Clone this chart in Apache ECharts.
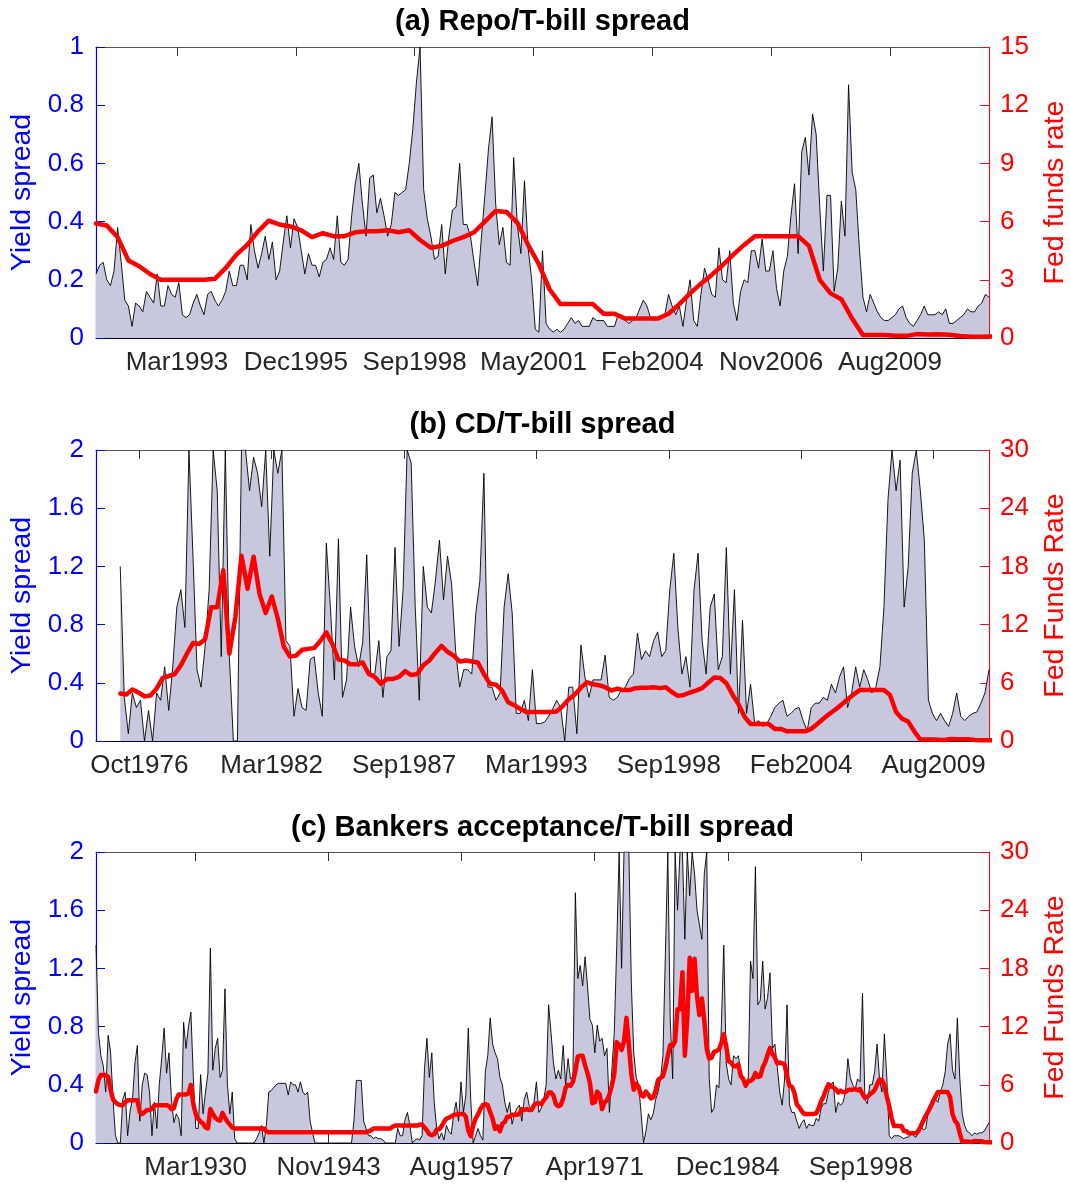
<!DOCTYPE html>
<html>
<head>
<meta charset="utf-8">
<script src="https://cdn.jsdelivr.net/npm/echarts@6/dist/echarts.min.js"></script>
<style>html,body{margin:0;padding:0;background:#fff}#c{width:1070px;height:1184px}</style>
</head>
<body>
<div id="c"></div>
<script>
// ---------------- DATA ----------------
// (a) Repo/T-bill spread, monthly from Apr 1991
const repoStart = 1991.25;
const repoStep = 1 / 12;
const repoSpread = [
  0.22, 0.25, 0.26, 0.20, 0.18, 0.23, 0.38, 0.26, 0.13, 0.11,
  0.04, 0.12, 0.11, 0.09, 0.16, 0.14, 0.12, 0.22, 0.11, 0.11,
  0.18, 0.15, 0.14, 0.19, 0.08, 0.07, 0.08, 0.12, 0.15, 0.11,
  0.08, 0.15, 0.16, 0.13, 0.11, 0.13, 0.16, 0.23, 0.18, 0.18,
  0.25, 0.25, 0.20, 0.39, 0.30, 0.24, 0.29, 0.35, 0.27, 0.33,
  0.20, 0.23, 0.33, 0.42, 0.31, 0.41, 0.38, 0.30, 0.22, 0.29,
  0.25, 0.25, 0.21, 0.26, 0.27, 0.31, 0.27, 0.42, 0.26, 0.25,
  0.27, 0.42, 0.53, 0.60, 0.46, 0.35, 0.55, 0.56, 0.43, 0.48,
  0.42, 0.35, 0.39, 0.50, 0.49, 0.50, 0.51, 0.60, 0.72, 0.88,
  1.00, 0.51, 0.41, 0.35, 0.27, 0.28, 0.39, 0.22, 0.35, 0.44,
  0.45, 0.60, 0.39, 0.39, 0.35, 0.26, 0.18, 0.34, 0.49, 0.65,
  0.76, 0.46, 0.32, 0.38, 0.26, 0.25, 0.62, 0.39, 0.29, 0.54,
  0.31, 0.20, 0.03, 0.02, 0.30, 0.05, 0.03, 0.02, 0.03, 0.02,
  0.03, 0.05, 0.07, 0.05, 0.06, 0.04, 0.04, 0.04, 0.07, 0.06,
  0.06, 0.06, 0.04, 0.04, 0.04, 0.08, 0.07, 0.06, 0.05, 0.06,
  0.07, 0.10, 0.13, 0.11, 0.07, 0.06, 0.07, 0.07, 0.08, 0.15,
  0.11, 0.08, 0.11, 0.04, 0.13, 0.20, 0.06, 0.04, 0.15, 0.24,
  0.20, 0.15, 0.14, 0.31, 0.20, 0.19, 0.30, 0.12, 0.06, 0.16,
  0.20, 0.19, 0.30, 0.30, 0.24, 0.34, 0.23, 0.23, 0.30, 0.17,
  0.11, 0.23, 0.28, 0.42, 0.53, 0.29, 0.64, 0.69, 0.56, 0.77,
  0.70, 0.45, 0.23, 0.49, 0.49, 0.16, 0.24, 0.47, 0.35, 0.87,
  0.57, 0.51, 0.31, 0.14, 0.09, 0.15, 0.12, 0.09, 0.07, 0.06,
  0.06, 0.07, 0.08, 0.10, 0.11, 0.07, 0.05, 0.04, 0.06, 0.08,
  0.11, 0.08, 0.08, 0.08, 0.09, 0.08, 0.10, 0.05, 0.05, 0.06,
  0.07, 0.08, 0.10, 0.09, 0.09, 0.11, 0.12, 0.15, 0.14
];

// (b) CD/T-bill spread, every two months from Jan 1976
const cdStart = 1976.0;
const cdStep = 1 / 6;
const cdSpread = [
  1.20, 0.30, 0.05, 0.33, 0.23, 0.28, 0.00, 0.21, 0.00, 0.33,
  0.28, 0.51, 0.21, 0.51, 0.92, 1.04, 0.78, 2.00, 1.27, 0.49,
  0.37, 0.65, 1.04, 2.00, 1.72, 0.58, 2.00, 0.58, 0.00, 0.00,
  2.00, 2.00, 1.72, 1.95, 1.84, 1.61, 2.00, 1.27, 2.00, 1.84,
  2.00, 0.69, 0.65, 0.17, 0.36, 0.23, 0.21, 0.56, 0.58, 0.33,
  0.17, 1.36, 0.92, 0.42, 1.39, 0.30, 0.42, 0.92, 0.65, 0.51,
  0.68, 1.28, 0.46, 0.46, 0.69, 0.30, 0.58, 0.62, 1.33, 0.65,
  1.04, 2.00, 1.91, 0.92, 0.28, 1.20, 0.92, 0.88, 1.10, 1.38,
  0.97, 1.27, 1.08, 0.62, 0.37, 0.49, 0.49, 0.46, 0.88, 1.10,
  1.84, 0.37, 0.37, 0.28, 0.33, 0.92, 1.15, 0.88, 0.19, 0.19,
  0.28, 0.14, 0.49, 0.12, 0.12, 0.13, 0.17, 0.22, 0.28, 0.23,
  0.00, 0.37, 0.37, 0.05, 0.66, 0.44, 0.30, 0.42, 0.42, 0.42,
  0.59, 0.30, 0.28, 0.30, 0.35, 0.37, 0.43, 0.46, 0.74, 0.56,
  0.62, 0.58, 0.69, 0.75, 0.58, 0.62, 1.04, 1.29, 0.78, 0.46,
  0.58, 0.37, 1.04, 1.29, 0.69, 0.46, 0.92, 1.01, 0.49, 0.58,
  1.33, 0.46, 1.04, 0.19, 0.83, 0.19, 0.39, 0.12, 0.14, 0.10,
  0.12, 0.17, 0.23, 0.26, 0.28, 0.17, 0.19, 0.22, 0.23, 0.14,
  0.07, 0.23, 0.26, 0.26, 0.30, 0.28, 0.39, 0.33, 0.44, 0.51,
  0.23, 0.33, 0.51, 0.37, 0.49, 0.42, 0.33, 0.37, 0.51, 0.92,
  1.66, 2.00, 1.72, 1.93, 0.92, 1.20, 1.84, 2.00, 1.72, 1.38,
  0.28, 0.19, 0.14, 0.19, 0.14, 0.10, 0.19, 0.33, 0.17, 0.14,
  0.17, 0.19, 0.20, 0.26, 0.33, 0.49
];

// (c) Bankers acceptance/T-bill spread, quarterly from Jan 1920
const baStart = 1920.0;
const baStep = 1 / 4;
const baSpread = [
  1.36, 0.76, 0.60, 0.53, 0.35, 0.74, 0.62, 0.30, 0.05, 0.00,
  0.00, 0.30, 0.35, 0.05, 0.22, 0.30, 0.55, 0.67, 0.15, 0.40,
  0.48, 0.47, 0.35, 0.05, 0.28, 0.10, 0.40, 0.58, 0.79, 0.48,
  0.62, 0.30, 0.14, 0.20, 0.17, 0.05, 0.83, 0.65, 0.80, 0.90,
  0.45, 0.10, 0.10, 0.47, 0.20, 0.35, 0.48, 1.34, 0.50, 0.65,
  0.72, 0.45, 0.50, 1.06, 0.40, 0.20, 0.35, 0.03, 0.00, 0.00,
  0.00, 0.00, 0.00, 0.00, 0.00, 0.00, 0.03, 0.07, 0.12, 0.00,
  0.12, 0.35, 0.36, 0.38, 0.40, 0.41, 0.41, 0.41, 0.41, 0.33,
  0.42, 0.40, 0.40, 0.35, 0.42, 0.35, 0.33, 0.35, 0.15, 0.07,
  0.00, 0.00, 0.00, 0.00, 0.00, 0.00, 0.00, 0.00, 0.00, 0.00,
  0.00, 0.00, 0.00, 0.00, 0.00, 0.00, 0.15, 0.43, 0.43, 0.43,
  0.15, 0.10, 0.05, 0.05, 0.03, 0.04, 0.03, 0.03, 0.02, 0.00,
  0.00, 0.00, 0.00, 0.00, 0.10, 0.05, 0.05, 0.16, 0.21, 0.12,
  0.00, 0.02, 0.03, 0.02, 0.05, 0.51, 0.72, 0.45, 0.62, 0.28,
  0.10, 0.03, 0.07, 0.02, 0.12, 0.08, 0.06, 0.20, 0.28, 0.15,
  0.42, 0.21, 0.33, 0.79, 0.30, 0.00, 0.05, 0.10, 0.05, 0.02,
  0.49, 0.60, 0.86, 0.68, 0.62, 0.58, 0.45, 0.40, 0.28, 0.21,
  0.28, 0.13, 0.20, 0.24, 0.26, 0.15, 0.30, 0.35, 0.26, 0.22,
  0.28, 0.42, 0.21, 0.24, 0.30, 0.40, 0.95, 0.76, 0.55, 0.44,
  0.50, 0.44, 0.67, 0.40, 0.58, 0.44, 0.45, 1.72, 1.13, 1.22,
  1.08, 1.28, 1.08, 0.85, 0.81, 0.62, 0.81, 0.70, 0.72, 0.60,
  0.65, 0.21, 0.50, 0.76, 1.35, 2.00, 1.20, 2.00, 2.00, 2.00,
  1.10, 0.62, 0.45, 0.40, 0.21, 0.00, 0.08, 0.20, 0.16, 0.20,
  0.30, 0.35, 0.44, 0.60, 1.30, 2.00, 0.85, 0.44, 2.00, 1.60,
  2.00, 2.00, 1.40, 2.00, 1.70, 2.00, 1.85, 1.60, 1.50, 1.40,
  1.85, 2.00, 0.45, 0.21, 0.24, 0.40, 0.38, 0.80, 1.36, 0.55,
  0.44, 0.40, 0.60, 0.58, 0.60, 0.48, 0.44, 0.40, 0.40, 1.25,
  1.13, 1.90, 0.95, 0.98, 1.25, 0.92, 1.00, 1.17, 0.65, 0.68,
  0.52, 0.35, 0.26, 0.44, 0.95, 0.26, 0.21, 0.21, 0.15, 0.10,
  0.14, 0.16, 0.10, 0.13, 0.12, 0.12, 0.17, 0.15, 0.24, 0.27,
  0.27, 0.35, 0.40, 0.42, 0.21, 0.28, 0.26, 0.28, 0.35, 0.58,
  0.45, 0.40, 0.37, 0.44, 0.42, 1.03, 0.30, 0.27, 0.40, 0.40,
  0.49, 0.68, 0.44, 0.35, 0.75, 0.45, 0.05, 0.03, 0.05, 0.05,
  0.05, 0.04, 0.03, 0.04, 0.04, 0.07, 0.05, 0.04, 0.07, 0.12,
  0.09, 0.10, 0.21, 0.26, 0.30, 0.30, 0.28, 0.35, 0.40, 0.49,
  0.68, 0.75, 0.50, 0.44, 0.86, 0.44, 0.20, 0.12, 0.08, 0.07,
  0.05, 0.07, 0.06, 0.07, 0.07, 0.08, 0.11, 0.14
];

// Fed funds rate (red line, shared by all panels), quarterly from Jan 1920
const fedStart = 1920.0;
const fedStep = 1 / 4;
const fedFunds = [
  5.3, 6.5, 7.0, 7.0,   7.0, 6.8, 5.5, 4.5,   4.2, 4.0, 3.9, 3.9,   4.2, 4.4, 4.4, 4.4,
  4.4, 4.4, 3.2, 3.0,   3.2, 3.4, 3.4, 3.5,   3.9, 3.9, 3.9, 3.9,   3.9, 3.9, 3.8, 3.5,
  3.6, 4.5, 5.0, 5.0,   5.0, 5.0, 5.1, 6.0,   4.0, 3.0, 2.5, 2.2,   2.0, 1.6, 1.5, 3.5,
  3.0, 2.6, 2.4, 2.3,   3.1, 2.6, 2.2, 1.9,   1.6, 1.5, 1.5, 1.5,   1.5, 1.5, 1.5, 1.5,
  1.5, 1.5, 1.5, 1.5,   1.5, 1.5, 1.2, 1.1,   1.1, 1.1, 1.1, 1.1,   1.1, 1.1, 1.1, 1.1,
  1.1, 1.1, 1.1, 1.1,   1.1, 1.1, 1.1, 1.1,   1.1, 1.1, 1.1, 1.1,   1.1, 1.1, 1.1, 1.1,
  1.1, 1.1, 1.1, 1.1,   1.1, 1.1, 1.1, 1.1,   1.1, 1.1, 1.1, 1.1,   1.1, 1.1, 1.1, 1.1,
  1.2, 1.3, 1.5, 1.5,   1.5, 1.5, 1.5, 1.5,   1.5, 1.5, 1.7, 1.8,   1.8, 1.8, 1.8, 1.8,
  1.8, 1.8, 1.8, 1.8,   1.8, 1.9, 1.9, 1.6,   1.3, 0.9, 0.8, 0.9,   1.4, 1.4, 1.7, 2.2,
  2.5, 2.6, 2.75, 2.9,  2.95, 2.95, 3.0, 3.0, 2.7, 1.3, 0.7, 1.8,   2.5, 2.95, 3.5, 3.9,
  4.0, 3.9, 3.2, 2.5,   1.45, 1.7, 1.2, 2.0,  2.15, 2.7, 2.7, 2.9,  2.9, 2.9, 3.0, 3.5,
  3.4, 3.5, 3.4, 3.4,   3.9, 4.1, 4.1, 4.0,   4.4, 4.7, 5.2, 5.2,   4.9, 4.0, 3.8, 3.9,
  4.6, 5.7, 6.0, 5.9,   6.3, 7.4, 8.9, 9.0,   9.0, 8.0, 7.2, 6.2,   4.1, 4.2, 5.3, 5.0,
  3.5, 4.2, 4.4, 5.0,   5.9, 7.1, 10.4, 10.1, 9.6, 10.5, 12.9, 10.1, 7.1, 5.5, 6.1, 5.8,
  4.9, 4.8, 5.3, 5.0,   4.6, 4.7, 5.4, 6.5,   6.7, 6.9, 7.8, 9.0,   10.1, 10.0, 10.5, 13.8,
  13.8, 17.6, 9.0, 12.8, 19.1, 15.7, 19.0, 15.1, 13.2, 14.9, 12.6, 9.7, 8.7, 8.8, 9.4, 9.5,
  9.6, 10.3, 11.2, 10.0, 8.4, 8.3, 7.9, 7.9,  8.1, 6.9, 6.6, 5.9,   6.4, 6.4, 6.6, 7.2,
  6.8, 6.9, 7.8, 8.3,   9.1, 9.8, 9.2, 8.8,   8.2, 8.3, 8.2, 8.1,   6.9, 5.9, 5.8, 5.2,
  4.0, 3.7, 3.3, 3.0,   3.0, 3.0, 3.0, 3.0,   3.05, 3.6, 4.3, 4.8,  5.5, 6.05, 5.85, 5.75,
  5.55, 5.2, 5.4, 5.25, 5.25, 5.45, 5.5, 5.5, 5.55, 5.45, 5.55, 5.05, 4.65, 4.75, 5.0, 5.2,
  5.45, 6.0, 6.55, 6.5, 5.95, 4.8, 3.8, 2.5,  1.75, 1.75, 1.75, 1.75, 1.25, 1.25, 1.0, 1.0,
  1.0, 1.0, 1.25, 1.75, 2.3, 2.8, 3.25, 3.75, 4.3, 4.8, 5.25, 5.25, 5.25, 5.25, 5.25, 4.75,
  3.0, 2.3, 2.0, 1.0,   0.15, 0.15, 0.16, 0.12, 0.11, 0.2, 0.18, 0.19, 0.17, 0.1, 0.07, 0.07,
  0.08
];

// Titles, axis names and tick labels
const titles = ['(a) Repo/T-bill spread', '(b) CD/T-bill spread', '(c) Bankers acceptance/T-bill spread'];
const leftName = 'Yield spread';
const rightNames = ['Fed funds rate', 'Fed Funds Rate', 'Fed Funds Rate'];
const labelsA = ['Mar1993', 'Dec1995', 'Sep1998', 'May2001', 'Feb2004', 'Nov2006', 'Aug2009'];
const labelsB = ['Oct1976', 'Mar1982', 'Sep1987', 'Mar1993', 'Sep1998', 'Feb2004', 'Aug2009'];
const labelsC = ['Mar1930', 'Nov1943', 'Aug1957', 'Apr1971', 'Dec1984', 'Sep1998'];

// ---------------- CHART ----------------
const FONT = "'Liberation Sans', Arial, Helvetica, sans-serif";
function pairs(start, step, arr) { return arr.map((v, i) => [start + i * step, v]); }
const fedPairs = pairs(fedStart, fedStep, fedFunds);

const panels = [
  { top: 47, titleY: 22, spread: pairs(repoStart, repoStep, repoSpread), fedFrom: repoStart,
    xMin: 1991.25, xMax: 2011.917, t0: 1993.125, dt: 2.75, labels: labelsA,
    lMax: 1, lInt: 0.2, rMax: 15, rInt: 3 },
  { top: 450, titleY: 425, spread: pairs(cdStart, cdStep, cdSpread), fedFrom: cdStart,
    xMin: 1975.0, xMax: 2011.833, t0: 1976.786, dt: 5.46, labels: labelsB,
    lMax: 2, lInt: 0.4, rMax: 30, rInt: 6 },
  { top: 852, titleY: 828, spread: pairs(baStart, baStep, baSpread), fedFrom: baStart,
    xMin: 1920.0, xMax: 2011.75, t0: 1930.23, dt: 13.67, labels: labelsC,
    lMax: 2, lInt: 0.4, rMax: 30, rInt: 6 }
];

const grid = [], xAxis = [], yAxis = [], series = [], graphic = [];
const GL = 96, GW = 893, GH = 291;
const BLUE = '#0000ff', RED = '#ff0000', RAXIS = '#dd1035';

panels.forEach((p, idx) => {
  const ticks = p.labels.map((_, k) => p.t0 + k * p.dt);
  const fmt = (v) => {
    let best = 0;
    for (let k = 1; k < ticks.length; k++) if (Math.abs(ticks[k] - v) < Math.abs(ticks[best] - v)) best = k;
    return p.labels[best];
  };
  grid.push({ left: GL, top: p.top, width: GW, height: GH, containLabel: false, outerBoundsMode: 'none' });
  xAxis.push({
    type: 'value', gridIndex: idx, position: 'bottom', min: p.xMin, max: p.xMax,
    splitLine: { show: false },
    axisLine: { show: true, onZero: false, lineStyle: { color: '#000033', width: 1.2 } },
    axisTick: { show: true, inside: true, length: 9, customValues: ticks, lineStyle: { color: '#333', width: 1 } },
    axisLabel: { show: true, customValues: ticks, formatter: fmt, color: '#262626', fontSize: 26, fontFamily: FONT, margin: 12 }
  });
  xAxis.push({
    type: 'value', gridIndex: idx, position: 'top', min: p.xMin, max: p.xMax,
    splitLine: { show: false },
    axisLine: { show: true, onZero: false, lineStyle: { color: '#555', width: 1.2 } },
    axisTick: { show: true, inside: true, length: 9, customValues: ticks, lineStyle: { color: '#333', width: 1 } },
    axisLabel: { show: false }
  });
  yAxis.push({
    type: 'value', gridIndex: idx, position: 'left', min: 0, max: p.lMax, interval: p.lInt,
    splitLine: { show: false },
    axisLine: { show: true, onZero: false, lineStyle: { color: BLUE, width: 1.2 } },
    axisTick: { show: true, inside: true, length: 9, lineStyle: { color: BLUE } },
    axisLabel: { color: BLUE, fontSize: 26, fontFamily: FONT, margin: 12,
                 formatter: (v) => String(Math.round(v * 10) / 10) },
    name: leftName, nameLocation: 'middle', nameGap: 58,
    nameTextStyle: { color: BLUE, fontSize: 28.5, fontFamily: FONT }
  });
  yAxis.push({
    type: 'value', gridIndex: idx, position: 'right', min: 0, max: p.rMax, interval: p.rInt,
    splitLine: { show: false },
    axisLine: { show: true, onZero: false, lineStyle: { color: RAXIS, width: 1.2 } },
    axisTick: { show: true, inside: true, length: 9, lineStyle: { color: RAXIS } },
    axisLabel: { color: RED, fontSize: 26, fontFamily: FONT, margin: 11 },
    name: rightNames[idx], nameLocation: 'middle', nameGap: 52,
    nameTextStyle: { color: RED, fontSize: 28.5, fontFamily: FONT }
  });
  series.push({
    type: 'line', xAxisIndex: 2 * idx, yAxisIndex: 2 * idx, data: p.spread,
    symbol: 'none', showSymbol: false, silent: true, z: 2,
    lineStyle: { color: '#000', width: 0.9 },
    areaStyle: { color: '#c7c7de', opacity: 1 }
  });
  series.push({
    type: 'line', xAxisIndex: 2 * idx, yAxisIndex: 2 * idx + 1,
    data: fedPairs.filter(d => d[0] >= p.fedFrom - 0.01),
    symbol: 'none', showSymbol: false, silent: true, z: 3,
    lineStyle: { color: RED, width: 4.5, join: 'round', cap: 'round' }
  });
  graphic.push({
    type: 'text', x: GL + GW / 2, y: p.titleY, silent: true,
    style: { text: titles[idx], fill: '#000', fontSize: 29, fontWeight: 'bold', fontFamily: FONT,
             align: 'center', verticalAlign: 'middle' }
  });
});

const chart = echarts.init(document.getElementById('c'), null, { renderer: 'canvas' });
chart.setOption({
  animation: false,
  backgroundColor: '#fff',
  grid, xAxis, yAxis, series, graphic
});
</script>
</body>
</html>
